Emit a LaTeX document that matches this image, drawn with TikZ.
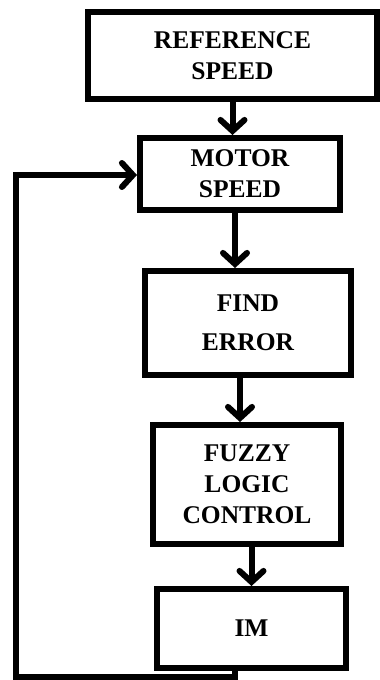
\documentclass[tikz,border=0pt]{standalone}
\usepackage{fontspec}
\setmainfont{Liberation Serif}
\usetikzlibrary{arrows.meta}
\begin{document}
\begin{tikzpicture}[x=1pt, y=-1pt, every node/.style = {shape=rectangle, draw, line width=6pt, align=center, font=\fontsize{25.5}{31}\selectfont\bfseries}]
	\tikzset{ flow/.style = {line width=6pt, -{Straight Barb[length=11pt, width=24pt, line cap=round]}} }
	\tikzset{ back/.style = {line width=6pt} }
	\useasboundingbox (0,0) rectangle (380,680);
	\node [minimum width=289pt, minimum height=87pt] (ref) at (232.5,55.5) {REFERENCE\\SPEED};
	\node [minimum width=200pt, minimum height=72pt] (motor) at (240,174) {MOTOR\\SPEED};
	\node [minimum width=206pt, minimum height=104pt] (error) at (248,323) {FIND\\[8pt]ERROR};
	\node [minimum width=188pt, minimum height=119pt] (fuzzy) at (247,484.5) {FUZZY\\LOGIC\\CONTROL};
	\node [minimum width=189pt, minimum height=79pt] (im) at (251.5,628.5) {IM};
	% forward path
	\draw [flow] (ref.south) -- (ref.south |- motor.north);
	\draw [flow] ([xshift=-5pt]motor.south) -- ([xshift=-5pt]motor.south |- error.north);
	\draw [flow] ([xshift=-8pt]error.south) -- ([xshift=-8pt]error.south |- fuzzy.north);
	\draw [flow] (fuzzy.south -| im.north) -- (im.north);
	% feedback
	\coordinate (down) at (235,677);
	\coordinate (corner) at (16,677);
	\coordinate (up) at (16,175);
	\draw [back] ([xshift=-16.5pt]im.south) -- (down) -- (corner) -- (up);
	\draw [flow] ([xshift=-3pt]up) -- (up -| motor.west);
\end{tikzpicture}
\end{document}
